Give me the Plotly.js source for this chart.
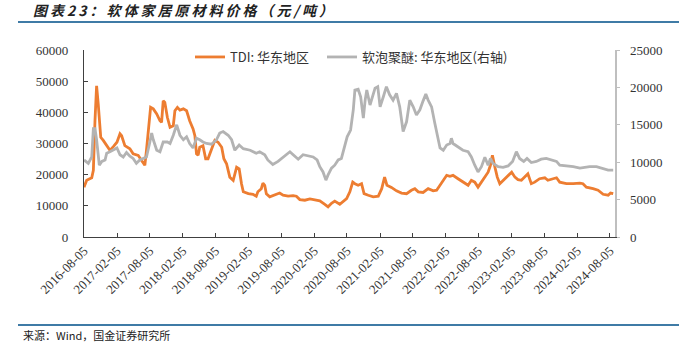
<!DOCTYPE html>
<html>
<head>
<meta charset="utf-8">
<script src="https://cdn.plot.ly/plotly-3.0.1.min.js"></script>
<style>
html,body{margin:0;padding:0;background:#fff;}
#chart{width:684px;height:344px;}
.gtitle{letter-spacing:3px;}
</style>
</head>
<body>
<div id="chart"></div>
<script>
// TDI: 华东地区 (left axis, 元/吨)
const tdiDates = ["2016-08-05","2016-08-20","2016-09-17","2016-09-26","2016-10-05","2016-10-14","2016-10-23","2016-11-06","2016-11-20","2016-12-09","2016-12-27","2017-01-15","2017-02-04","2017-02-21","2017-03-02","2017-03-20","2017-04-17","2017-05-05","2017-06-02","2017-06-20","2017-07-09","2017-07-18","2017-07-27","2017-08-10","2017-08-25","2017-09-13","2017-10-01","2017-10-10","2017-10-19","2017-10-28","2017-11-11","2017-11-26","2017-12-14","2017-12-23","2018-01-06","2018-01-20","2018-02-08","2018-02-26","2018-03-15","2018-04-03","2018-04-13","2018-04-22","2018-05-01","2018-05-10","2018-05-28","2018-06-12","2018-06-25","2018-07-14","2018-08-02","2018-08-20","2018-09-09","2018-09-21","2018-10-06","2018-10-24","2018-11-12","2018-12-01","2018-12-15","2018-12-28","2019-01-07","2019-02-04","2019-03-02","2019-03-20","2019-03-29","2019-04-17","2019-04-26","2019-05-06","2019-05-15","2019-06-03","2019-07-01","2019-07-28","2019-08-16","2019-09-13","2019-10-11","2019-10-29","2019-11-17","2019-12-15","2020-01-12","2020-02-09","2020-03-07","2020-04-04","2020-04-22","2020-05-11","2020-05-29","2020-06-26","2020-07-14","2020-08-03","2020-08-21","2020-09-06","2020-09-18","2020-10-06","2020-10-25","2020-11-08","2020-12-01","2020-12-29","2021-01-26","2021-02-14","2021-03-02","2021-03-15","2021-04-09","2021-05-07","2021-06-04","2021-07-02","2021-07-29","2021-08-17","2021-09-05","2021-10-02","2021-10-30","2021-11-27","2021-12-16","2022-01-04","2022-01-22","2022-02-10","2022-02-28","2022-03-17","2022-04-14","2022-05-11","2022-06-09","2022-06-27","2022-07-16","2022-08-03","2022-08-22","2022-09-10","2022-09-28","2022-10-11","2022-10-22","2022-11-05","2022-11-18","2022-12-02","2022-12-20","2023-01-12","2023-02-06","2023-02-24","2023-03-13","2023-04-01","2023-04-25","2023-05-07","2023-05-26","2023-06-14","2023-07-11","2023-08-09","2023-08-26","2023-09-21","2023-10-13","2023-10-31","2023-12-07","2024-01-14","2024-02-20","2024-03-08","2024-03-27","2024-05-03","2024-05-31","2024-06-28","2024-07-26","2024-08-08","2024-08-23"];
const tdiValues = [16000,18200,19000,21400,37300,48500,42700,32000,31000,29300,27800,29000,30400,33100,32500,29300,28300,26700,26200,24600,23000,27800,33600,41600,41100,39500,37300,36800,43700,43200,38400,35200,35700,40500,41600,40700,41100,40500,37300,34700,32500,26700,26200,28800,29300,25100,25100,28300,31000,30400,28800,25100,23500,19200,18200,22400,21900,17100,14500,13900,13700,13100,14500,15500,17300,16600,13900,12900,13600,14100,13400,13100,13300,13100,12000,11800,12200,12000,11600,10500,9700,10800,11500,10500,11500,12300,14500,17600,17100,16600,17100,13900,13400,12900,13100,15500,19200,16600,15900,14800,14100,13900,15000,15500,14500,14300,15500,14800,15000,16600,18200,19800,19500,19800,18700,17600,16600,18200,17600,16000,17600,19500,20800,23000,26200,22400,19200,17100,18200,19500,20800,19200,18400,18200,19800,20300,17100,17600,18700,19000,18200,18700,19000,17600,17100,17100,17300,17100,16000,15500,15000,13700,13400,14100,13900];

// 软泡聚醚: 华东地区 (right axis, 元/吨)
const ppgDates = ["2016-08-05","2016-08-29","2016-09-17","2016-09-26","2016-10-05","2016-10-14","2016-10-29","2016-11-12","2016-11-30","2016-12-09","2016-12-27","2017-01-15","2017-02-04","2017-02-21","2017-03-11","2017-03-29","2017-04-17","2017-05-05","2017-05-23","2017-06-11","2017-06-29","2017-07-18","2017-08-06","2017-08-16","2017-08-25","2017-09-13","2017-10-01","2017-10-19","2017-11-11","2017-11-26","2017-12-14","2018-01-02","2018-01-20","2018-02-08","2018-02-26","2018-03-15","2018-04-03","2018-04-22","2018-05-10","2018-05-28","2018-06-17","2018-07-14","2018-08-11","2018-08-29","2018-09-17","2018-10-15","2018-11-03","2018-11-21","2018-12-15","2019-01-07","2019-02-14","2019-03-20","2019-04-08","2019-05-06","2019-05-23","2019-06-20","2019-07-19","2019-08-16","2019-09-05","2019-09-23","2019-10-11","2019-11-08","2019-12-05","2020-01-02","2020-01-30","2020-02-21","2020-03-07","2020-03-25","2020-04-10","2020-04-22","2020-05-11","2020-05-29","2020-06-17","2020-07-05","2020-07-23","2020-08-06","2020-08-25","2020-09-09","2020-09-18","2020-10-06","2020-10-20","2020-11-04","2020-11-14","2020-11-23","2020-12-11","2020-12-29","2021-01-08","2021-01-23","2021-02-05","2021-02-23","2021-03-12","2021-03-30","2021-04-18","2021-05-07","2021-05-25","2021-06-13","2021-07-02","2021-07-20","2021-08-08","2021-08-26","2021-09-14","2021-10-02","2021-10-17","2021-10-30","2021-11-18","2021-12-06","2021-12-16","2022-01-04","2022-01-22","2022-02-10","2022-02-28","2022-03-08","2022-03-17","2022-04-14","2022-05-11","2022-06-09","2022-06-27","2022-07-16","2022-08-03","2022-08-22","2022-09-10","2022-09-28","2022-10-11","2022-10-25","2022-11-23","2022-12-20","2023-01-17","2023-02-11","2023-03-04","2023-03-22","2023-04-14","2023-05-02","2023-05-26","2023-06-23","2023-07-20","2023-08-17","2023-09-15","2023-10-13","2023-10-31","2023-12-07","2024-01-14","2024-02-20","2024-03-17","2024-04-14","2024-05-22","2024-06-28","2024-07-26","2024-08-23"];
const ppgValues = [10300,9850,10700,14500,14500,13000,9600,10100,10300,11200,11400,11600,11900,11000,10700,11300,10800,10500,9850,10300,10500,10700,12700,13900,13000,11600,11400,12700,12700,12500,13600,15000,13600,13000,13400,12500,11900,13200,13000,12700,12500,12400,13000,13900,14100,13600,13000,11600,12300,11800,11600,11200,11400,11000,10300,9700,10100,10650,11000,11400,11000,10400,11000,10800,10700,10300,9400,8700,7600,8300,9200,9600,10300,10500,12100,13400,14300,17000,19650,19750,18750,15900,18300,19650,17650,19200,19900,20100,17400,18750,20100,19000,18300,19200,17400,14100,15400,18300,17400,16300,17000,18200,19100,18300,17400,15200,13900,11900,11600,12300,12500,13200,12500,12100,11600,11400,10700,9600,8700,9400,10650,9600,10500,9850,9400,9300,9500,10100,11400,10500,10100,10500,9950,10100,10400,10500,10300,10100,9600,9550,9400,9200,9300,9400,9400,9200,8950,8950];

const xTickVals = ["2016-08-05","2017-02-05","2017-08-05","2018-02-05","2018-08-05","2019-02-05","2019-08-05","2020-02-05","2020-08-05","2021-02-05","2021-08-05","2022-02-05","2022-08-05","2023-02-05","2023-08-05","2024-02-05","2024-08-05"];
const xTickText = xTickVals.slice();
const yLeftTicks = [0,10000,20000,30000,40000,50000,60000];
const yRightTicks = [0,5000,10000,15000,20000,25000];

const seriesNames = ["TDI: 华东地区", "软泡聚醚: 华东地区(右轴)"];
const titleText = "图表23：软体家居原材料价格（元/吨）";
const sourceText = "来源：Wind，国金证券研究所";

const CJK = "'Noto Sans CJK SC', 'Noto Sans', sans-serif";
const SERIF = "'Liberation Serif', 'DejaVu Serif', serif";

// pixel helpers for decorations (plot area: x 84..615, y 50..237)
const L = 84, R = 615, T = 50, B = 237;
const px = X => (X - L) / (R - L);
const py = Y => (B - Y) / (B - T);

const traces = [
  {x: tdiDates, y: tdiValues, name: seriesNames[0], type: 'scatter', mode: 'lines',
   line: {color: '#ED7D31', width: 2.8}, yaxis: 'y', legend: 'legend'},
  {x: ppgDates, y: ppgValues, name: seriesNames[1], type: 'scatter', mode: 'lines',
   line: {color: '#B3B3B3', width: 2.8}, yaxis: 'y2', legend: 'legend2'}
];

const layout = {
  width: 684, height: 344,
  margin: {l: L, r: 684 - R, t: T, b: 344 - B},
  paper_bgcolor: '#fff', plot_bgcolor: '#fff',
  title: {text: '<b><i>' + titleText + '</i></b>', xref: 'container', yref: 'container',
          x: 33/684, xanchor: 'left', y: 1 - 11/344, yanchor: 'middle',
          font: {family: CJK, size: 14, color: '#222'}},
  xaxis: {type: 'date', range: ['2016-08-05', '2024-09-02'],
          tickmode: 'array', tickvals: xTickVals, ticktext: xTickText, tickangle: -45,
          ticks: 'inside', ticklen: 4, tickcolor: '#404040', tickwidth: 1,
          showline: true, linecolor: '#404040', linewidth: 1.2, showgrid: false, zeroline: false,
          tickfont: {family: SERIF, size: 13, color: '#333'}},
  yaxis: {range: [0, 60000], tickmode: 'array', tickvals: yLeftTicks, tickformat: 'd',
          ticks: 'inside', ticklen: 4, tickcolor: '#404040',
          showline: true, linecolor: '#404040', linewidth: 1.2, showgrid: false, zeroline: false,
          ticklabelstandoff: 12,
          tickfont: {family: SERIF, size: 13, color: '#333'}},
  yaxis2: {range: [0, 25000], overlaying: 'y', side: 'right', anchor: 'x',
           tickmode: 'array', tickvals: yRightTicks, tickformat: 'd',
           ticks: 'outside', ticklen: 3, tickcolor: '#BFBFBF',
           showline: true, linecolor: '#BFBFBF', linewidth: 1.5, showgrid: false, zeroline: false,
           ticklabelstandoff: 8,
           tickfont: {family: SERIF, size: 13, color: '#333'}},
  showlegend: true,
  legend: {x: px(190), xanchor: 'left', y: py(57), yanchor: 'middle', orientation: 'h',
           bgcolor: 'rgba(0,0,0,0)', font: {family: CJK, size: 13, color: '#333'}},
  legend2: {x: px(322), xanchor: 'left', y: py(57), yanchor: 'middle', orientation: 'h',
            bgcolor: 'rgba(0,0,0,0)', font: {family: CJK, size: 13, color: '#333'}},
  shapes: [
    {type: 'line', xref: 'paper', yref: 'paper', x0: px(18), x1: px(679), y0: py(22), y1: py(22),
     line: {color: '#3F7BA6', width: 2}},
    {type: 'line', xref: 'paper', yref: 'paper', x0: px(18), x1: px(679), y0: py(325), y1: py(325),
     line: {color: '#3F7BA6', width: 2}}
  ],
  annotations: [
    {text: sourceText, xref: 'paper', yref: 'paper', x: px(22), y: py(335),
     xanchor: 'left', yanchor: 'middle', showarrow: false, borderpad: 0,
     font: {family: CJK, size: 11, color: '#222'}}
  ]
};

Plotly.newPlot('chart', traces, layout, {staticPlot: true, displayModeBar: false});
</script>
</body>
</html>
